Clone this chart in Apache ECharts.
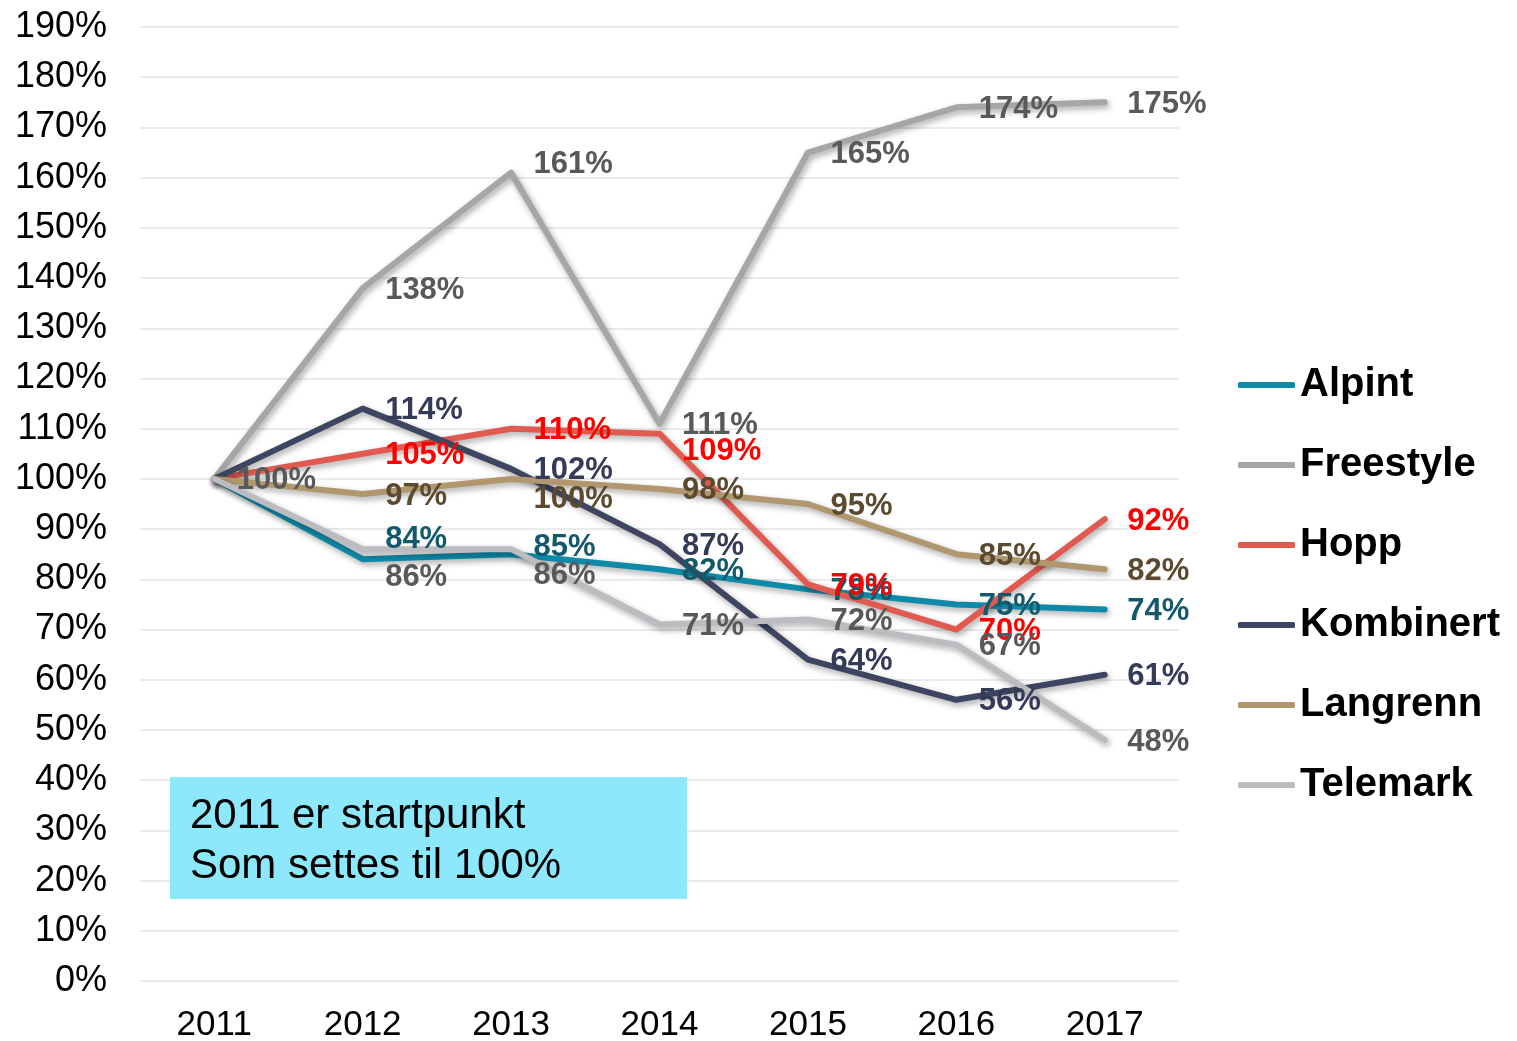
<!DOCTYPE html>
<html>
<head>
<meta charset="utf-8">
<script src="https://cdn.jsdelivr.net/npm/echarts@6/dist/echarts.min.js"></script>
<style>
  html, body { margin: 0; padding: 0; background: #fff; }
  #chart { width: 1517px; height: 1041px; }
</style>
</head>
<body>
<div id="chart"></div>
<script>
// år og indeks (2011 = 100 %)
const years = ['2011', '2012', '2013', '2014', '2015', '2016', '2017'];
const alpint = [100, 84, 85, 82, 78, 75, 74];
const freestyle = [100, 138, 161, 111, 165, 174, 175];
const hopp = [100, 105, 110, 109, 79, 70, 92];
const kombinert = [100, 114, 102, 87, 64, 56, 61];
const langrenn = [100, 97, 100, 98, 95, 85, 82];
const telemark = [100, 86, 86, 71, 72, 67, 48];

// farger: linje / etikett
const series = [
  { name: 'Alpint', data: alpint, line: '#0e8aa8', text: '#12596b' },
  { name: 'Freestyle', data: freestyle, line: '#a6a6a8', text: '#595959' },
  { name: 'Hopp', data: hopp, line: '#e05a50', text: '#ff0000' },
  { name: 'Kombinert', data: kombinert, line: '#3d4561', text: '#343b57' },
  { name: 'Langrenn', data: langrenn, line: '#b0976e', text: '#5b4a2f' },
  { name: 'Telemark', data: telemark, line: '#bcbcc0', text: '#595959' }
];

// etiketter som er flyttet opp/ned (piksler)
const nudge = {
  Alpint: { 1: -22, 2: -9 },
  Telemark: { 1: 26, 2: 24 },
  Freestyle: { 2: -10 },
  Langrenn: { 2: 19 },
  Hopp: { 3: 16 }
};

const chart = echarts.init(document.getElementById('chart'));

const option = {
  animation: false,
  grid: { left: 140, right: 338, top: 27, bottom: 60, outerBoundsMode: 'none', containLabel: false },
  legend: {
    orient: 'vertical',
    left: 1238,
    top: 365,
    padding: 0,
    itemWidth: 57,
    itemHeight: 6,
    itemGap: 40,
    icon: 'roundRect',
    textStyle: {
      fontFamily: 'Liberation Sans, Arial',
      fontSize: 40,
      fontWeight: 'bold',
      color: '#000',
      lineHeight: 40
    },
    data: series.map(s => ({ name: s.name, itemStyle: { color: s.line, opacity: 1 } }))
  },
  xAxis: {
    type: 'category',
    data: years,
    boundaryGap: true,
    axisLine: { show: false },
    axisTick: { show: false },
    axisLabel: { fontFamily: 'Liberation Sans, Arial', fontSize: 35, color: '#000', margin: 27 }
  },
  yAxis: {
    type: 'value',
    min: 0,
    max: 190,
    interval: 10,
    axisLine: { show: false },
    axisTick: { show: false },
    axisLabel: { fontFamily: 'Liberation Sans, Arial', fontSize: 36, color: '#000', margin: 33, formatter: '{value}%' },
    splitLine: { lineStyle: { color: '#ebebeb', width: 2 } }
  },
  graphic: [
    {
      type: 'rect',
      shape: { x: 170, y: 777, width: 517, height: 122 },
      style: { fill: '#8ee8fc' },
      z: 10
    },
    {
      type: 'text',
      x: 190,
      y: 791,
      style: {
        text: '2011 er startpunkt\nSom settes til 100%',
        font: '42px "Liberation Sans", Arial',
        lineHeight: 50,
        fill: '#000'
      },
      z: 11
    }
  ],
  series: series.map(s => ({
    name: s.name,
    type: 'line',
    symbol: 'circle',
    symbolSize: 1,
    showSymbol: true,
    itemStyle: { color: 'rgba(0,0,0,0)' },
    lineStyle: {
      color: s.line,
      width: 6,
      cap: 'round',
      join: 'round',
      shadowColor: 'rgba(0,0,0,0.35)',
      shadowBlur: 6,
      shadowOffsetX: 2,
      shadowOffsetY: 3
    },
    emphasis: { disabled: true },
    data: s.data.map((v, i) => {
      const dy = ((nudge[s.name] && nudge[s.name][i]) || 0) + 2;
      return {
        value: v,
        label: {
          show: i > 0 || s.name === 'Freestyle',
          position: 'right',
          distance: 22,
          offset: [0, dy],
          formatter: '{c}%',
          fontFamily: 'Liberation Sans, Arial',
          fontSize: 31,
          fontWeight: 'bold',
          color: s.text
        }
      };
    })
  }))
};

chart.setOption(option);
</script>
</body>
</html>
